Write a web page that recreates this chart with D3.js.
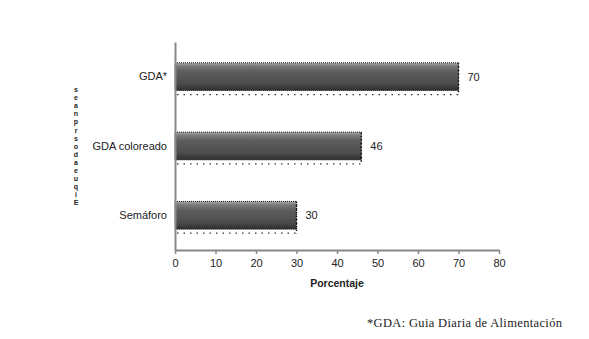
<!DOCTYPE html>
<html><head><meta charset="utf-8">
<script src="https://cdn.jsdelivr.net/npm/d3@7"></script>
<style>body{margin:0;background:#fff}svg{display:block}</style>
</head><body>
<svg id="c" width="589" height="339"></svg>
<script>
const categories = ["GDA*", "GDA coloreado", "Semáforo"];
const values = [70, 46, 30];
const xTicks = [0, 10, 20, 30, 40, 50, 60, 70, 80];
const yLabelChars = ["s","e","a","n","p","r","s","o","d","a","e","u","q","i","E"];
const xTitle = "Porcentaje";
const footnote = "*GDA: Guia Diaria de Alimentación";

const svg = d3.select("#c");
const x = d3.scaleLinear().domain([0, 80]).range([175, 499]);
const y = d3.scaleBand().domain(categories).range([42, 250]).paddingInner(0.6).paddingOuter(0.3);

const defs = svg.append("defs");
const g = defs.append("linearGradient").attr("id","bg").attr("x1",0).attr("y1",0).attr("x2",0).attr("y2",1);
[[0,"#a8a8a8"],[0.12,"#7a7a7a"],[0.3,"#5e5e5e"],[0.75,"#4c4c4c"],[1,"#2e2e2e"]].forEach(([o,c])=>g.append("stop").attr("offset",o).attr("stop-color",c));

const font = "Liberation Sans, Arial, sans-serif";

// bars
const bars = svg.append("g");
categories.forEach((c,i)=>{
  const y0 = y(c), h = y.bandwidth(), x0 = x(0), w = x(values[i]) - x(0);
  bars.append("rect").attr("x",x0).attr("y",y0).attr("width",w).attr("height",h)
    .attr("fill","url(#bg)").attr("stroke","#111").attr("stroke-width",1).attr("stroke-dasharray","1,1");
  bars.append("line").attr("x1",x0+2).attr("x2",x0+w).attr("y1",y0+h+4).attr("y2",y0+h+4)
    .attr("stroke","#333").attr("stroke-width",1.2).attr("stroke-dasharray","1.5,5");
  bars.append("line").attr("x1",x0+w).attr("x2",x0+w).attr("y1",y0).attr("y2",y0+h+4)
    .attr("stroke","#111").attr("stroke-width",1.5).attr("stroke-dasharray","1.5,2");
  svg.append("text").attr("x",x(values[i])+9).attr("y",y0+h/2+4)
    .attr("font-family",font).attr("font-size",11).attr("fill","#222").text(values[i]);
});

// x axis
const xa = svg.append("g").attr("transform","translate(0,250)")
  .call(d3.axisBottom(x).tickValues(xTicks).tickSize(4).tickSizeOuter(0));
xa.select(".domain").attr("stroke","#888").attr("stroke-width",2);
xa.selectAll(".tick line").attr("stroke","#888").attr("stroke-width",1.5);
xa.selectAll(".tick text").attr("font-family",font).attr("font-size",11).attr("fill","#222").attr("dy","0.95em");

// y axis
const ya = svg.append("g").attr("transform","translate(175,0)")
  .call(d3.axisLeft(y).tickSize(0).tickPadding(8));
ya.select(".domain").attr("stroke","#888").attr("stroke-width",2);
ya.selectAll(".tick text").attr("font-family",font).attr("font-size",11).attr("fill","#222");

// x title
svg.append("text").attr("x",337).attr("y",287).attr("text-anchor","middle")
  .attr("font-family",font).attr("font-size",10.5).attr("font-weight","bold").attr("fill","#222").text(xTitle);

// y title (stacked letters)
const yt = svg.append("text").attr("font-family",font).attr("font-size",7).attr("font-weight","bold").attr("fill","#222").attr("text-anchor","middle");
yLabelChars.forEach((ch,i)=>yt.append("tspan").attr("x",76).attr("y",92+i*8.1).text(ch));

// footnote
svg.append("text").attr("x",367).attr("y",327).attr("font-family","Liberation Serif, Times New Roman, serif")
  .attr("font-size",12.5).attr("textLength",195).attr("lengthAdjust","spacing").attr("fill","#222").text(footnote);
</script>
</body></html>
